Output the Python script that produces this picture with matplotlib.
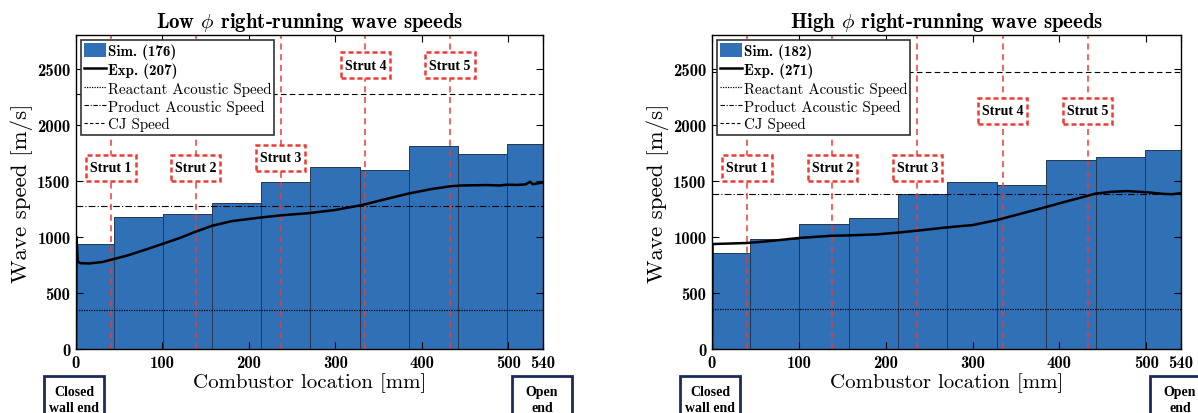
import numpy as np
import matplotlib
matplotlib.use("Agg")
import matplotlib.pyplot as plt
from matplotlib.patches import Rectangle, Patch
from matplotlib.lines import Line2D

plt.rcParams['font.family'] = ['cmr10', 'DejaVu Serif']
plt.rcParams['mathtext.fontset'] = 'cm'
plt.rcParams['axes.formatter.use_mathtext'] = True

# ---------------- data ----------------
bin_edges = [0, 43.5, 100.4, 157.3, 214.2, 271.1, 328.0, 384.9, 441.8, 498.7, 540]
strut_x = [40.5, 138.5, 236.5, 334.5, 432.5]
strut_labels = ["Strut 1", "Strut 2", "Strut 3", "Strut 4", "Strut 5"]
xticks = [0, 100, 200, 300, 400, 500, 540]
xtick_labels = ["0", "100", "200", "300", "400", "500", "540"]
yticks = [0, 500, 1000, 1500, 2000, 2500]
ytick_labels = ["0", "500", "1000", "1500", "2000", "2500"]

low_sim = [935, 1175, 1208, 1306, 1491, 1619, 1598, 1812, 1735, 1824]
low_exp_x = [0, 0.6, 2, 5, 15, 30, 40, 60, 80, 100, 120, 138, 157, 180, 213, 237, 270,
             300, 328, 335, 360, 384, 410, 432, 445, 460, 475, 490, 498, 510, 520, 525, 528, 535, 540]
low_exp_y = [0, 1000, 780, 765, 763, 775, 795, 835, 885, 937, 990, 1045, 1098, 1140, 1172, 1192, 1212,
             1240, 1280, 1292, 1340, 1385, 1425, 1450, 1458, 1460, 1462, 1458, 1465, 1463, 1468, 1492, 1470, 1478, 1485]
low_react, low_prod, low_cj = 352, 1277, 2278
low_box_bottom = [1500, 1500, 1590, 2416, 2416]
low_n = (176, 207)

high_sim = [857, 985, 1116, 1170, 1381, 1485, 1464, 1685, 1708, 1771]
high_exp_x = [0, 0.6, 5, 40, 70, 100, 138, 157, 190, 214, 236, 271, 300, 328, 355, 384,
              410, 432, 441, 460, 478, 500, 520, 530, 540]
high_exp_y = [0, 935, 937, 945, 965, 990, 1010, 1013, 1022, 1038, 1055, 1085, 1105, 1150, 1205, 1265,
              1320, 1365, 1385, 1402, 1408, 1398, 1383, 1380, 1390]
high_react, high_prod, high_cj = 360, 1380, 2467
high_box_bottom = [1500, 1500, 1500, 2009, 2009]
high_n = (182, 271)

BAR = '#3070b7'
RED = '#ee3a35'

fig = plt.figure(figsize=(11.98, 4.14), dpi=100)
ax1 = fig.add_axes([76/1198, 64/414, 467/1198, 314/414])
ax2 = fig.add_axes([712/1198, 64/414, 469/1198, 314/414])


def draw(ax, sim, ex, ey, react, prod, cj, box_bottom, title, n):
    widths = np.diff(bin_edges)
    ax.bar(bin_edges[:-1], sim, width=widths, align='edge', color=BAR,
           edgecolor='#26364f', linewidth=0.7, zorder=1)
    ax.axhline(react, color='k', ls=(0, (1, 1)), lw=0.9, zorder=2)
    ax.axhline(prod, color='k', ls=(0, (6, 2, 1, 2)), lw=0.8, zorder=2)
    ax.axhline(cj, color='k', ls=(0, (5, 3)), lw=0.8, zorder=2)
    for sx in strut_x:
        ax.axvline(sx, color=RED, ls=(0, (4, 3)), lw=1.1, zorder=3)
    ax.plot(ex, ey, color='k', lw=1.8, zorder=4, solid_joinstyle='round')
    bw, bh = 57, 232
    for sx, by, lab in zip(strut_x, box_bottom, strut_labels):
        ax.add_patch(Rectangle((sx - bw/2, by), bw, bh, facecolor='white',
                               edgecolor=RED, lw=1.8, ls=(0, (2.0, 1.2)), zorder=5))
        ax.text(sx, by + bh/2, lab, ha='center', va='center', fontsize=10,
                family='Liberation Serif', weight='bold', zorder=6)
    ax.set_xlim(0, 540)
    ax.set_ylim(0, 2800)
    ax.set_xticks(xticks)
    ax.set_xticklabels(xtick_labels, fontfamily='cmb10', fontsize=12)
    ax.set_yticks(yticks)
    ax.set_yticklabels(ytick_labels, fontfamily='cmb10', fontsize=12)
    ax.tick_params(direction='in', top=True, right=True, length=5, width=0.8, pad=4)
    for s in ax.spines.values():
        s.set_linewidth(1.0)
        s.set_zorder(7)
    ax.set_title(title, fontfamily='cmb10', fontsize=15, pad=6)
    ax.set_xlabel('Combustor location [mm]', fontsize=15, labelpad=2)
    ax.set_ylabel('Wave speed [m/s]', fontsize=16.5, labelpad=3)
    handles = [Patch(facecolor=BAR, edgecolor='none'),
               Line2D([], [], color='k', lw=1.8),
               Line2D([], [], color='k', lw=0.9, ls=(0, (1, 1))),
               Line2D([], [], color='k', lw=0.8, ls=(0, (4, 1.5, 1, 1.5))),
               Line2D([], [], color='k', lw=0.8, ls=(0, (3, 2)))]
    labels = [f'Sim. ({n[0]})', f'Exp. ({n[1]})', 'Reactant Acoustic Speed',
              'Product Acoustic Speed', 'CJ Speed']
    leg = ax.legend(handles, labels, loc='upper left', fontsize=10.8, fancybox=False,
                    framealpha=1, edgecolor='#333333', handlelength=1.45, handleheight=1.0,
                    handletextpad=0.12, labelspacing=0.2, borderpad=0.2,
                    borderaxespad=0.35)
    leg.get_frame().set_linewidth(1.2)
    leg.set_zorder(10)
    for t in leg.get_texts()[:2]:
        t.set_fontfamily('cmb10')


draw(ax1, low_sim, low_exp_x, low_exp_y, low_react, low_prod, low_cj, low_box_bottom,
     r'Low $\phi$ right-running wave speeds', low_n)
draw(ax2, high_sim, high_exp_x, high_exp_y, high_react, high_prod, high_cj, high_box_bottom,
     r'High $\phi$ right-running wave speeds', high_n)


def endbox(xc, text):
    W, H = 1198, 414
    fig.add_artist(Rectangle(((xc - 30)/W, -0.1), 60/W, (414 - 377)/H + 0.1,
                             transform=fig.transFigure, facecolor='white',
                             edgecolor='#1c2a5e', lw=2.0, zorder=20))
    fig.text(xc/W, (414 - 400.5)/H, text, ha='center', va='center', fontsize=10,
             family='Liberation Serif', weight='bold', linespacing=1.3, zorder=21)


endbox(74, 'Closed\nwall end')
endbox(542, 'Open\nend')
endbox(710, 'Closed\nwall end')
endbox(1180, 'Open\nend')

fig.savefig('out.png', dpi=100)
